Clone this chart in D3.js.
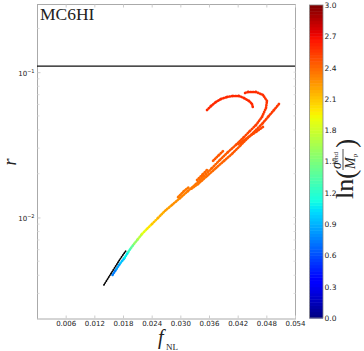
<!DOCTYPE html>
<html>
<head>
<meta charset="utf-8">
<script src="https://cdn.jsdelivr.net/npm/d3@7"></script>
<style>
  body { margin: 0; background: #fff; }
  svg text { fill: #222; }
</style>
</head>
<body>
<svg width="364" height="351"></svg>
<script>
// values: [fNL, r, ln(sigma_end/Mp)]
var mainTrack = [
  [0.01580, 0.00402, 0.70], [0.01663, 0.00442, 0.80], [0.01747, 0.00486, 0.90],
  [0.01831, 0.00526, 1.00], [0.01910, 0.00579, 1.15], [0.01967, 0.00617, 1.30],
  [0.02030, 0.00657, 1.50], [0.02114, 0.00711, 1.65], [0.02198, 0.00770, 1.80],
  [0.02302, 0.00834, 1.95], [0.02407, 0.00902, 2.05], [0.02533, 0.00992, 2.15],
  [0.02679, 0.0111, 2.20], [0.02826, 0.0122, 2.25], [0.02993, 0.0136, 2.30],
  [0.03160, 0.0152, 2.33], [0.03328, 0.0170, 2.36], [0.03495, 0.0193, 2.38],
  [0.03663, 0.0219, 2.40], [0.03830, 0.0249, 2.42], [0.03998, 0.0282, 2.45],
  [0.04165, 0.0316, 2.48], [0.04333, 0.0358, 2.50], [0.04458, 0.0394, 2.52],
  [0.04584, 0.0433, 2.53], [0.04709, 0.0492, 2.55], [0.04793, 0.0567, 2.56],
  [0.04814, 0.0634, 2.57], [0.04730, 0.0697, 2.58], [0.04584, 0.0731, 2.58],
  [0.04416, 0.0731, 2.60], [0.04353, 0.0719, 2.60]
];
var rightTrack = [
  [0.05065, 0.0604, 2.56], [0.04960, 0.0549, 2.55], [0.04835, 0.0492, 2.54],
  [0.04709, 0.0440, 2.52], [0.04563, 0.0394, 2.50], [0.04416, 0.0353, 2.48],
  [0.04249, 0.0311, 2.46], [0.04081, 0.0274, 2.44], [0.03914, 0.0245, 2.42],
  [0.03726, 0.0216, 2.40], [0.03537, 0.0190, 2.38], [0.03370, 0.0170, 2.36],
  [0.03202, 0.0155, 2.34]
];
var shortTrack = [
  [0.04730, 0.0420, 2.52], [0.04584, 0.0388, 2.50], [0.04458, 0.0364, 2.49],
  [0.04312, 0.0336, 2.48], [0.04186, 0.0316, 2.47]
];
var arcTrack = [
  [0.03558, 0.0549, 2.60], [0.03642, 0.0585, 2.60], [0.03747, 0.0624, 2.60],
  [0.03851, 0.0654, 2.60], [0.03977, 0.0675, 2.60], [0.04102, 0.0686, 2.60],
  [0.04228, 0.0686, 2.60], [0.04333, 0.0664, 2.60], [0.04437, 0.0634, 2.60],
  [0.04500, 0.0604, 2.60], [0.04521, 0.0567, 2.60]
];
var bitE = [[0.03684, 0.0245, 2.45], [0.03809, 0.0269, 2.45], [0.03914, 0.0291, 2.45]];
var bitF = [[0.03349, 0.0181, 2.40], [0.03474, 0.0199, 2.40], [0.03579, 0.0216, 2.40]];
var bitG = [[0.02951, 0.0138, 2.35], [0.03077, 0.0152, 2.35], [0.03181, 0.0162, 2.35]];
var blackTrack = [
  [0.01400, 0.00343], [0.01505, 0.00390], [0.01609, 0.00442],
  [0.01714, 0.00502], [0.01798, 0.00552], [0.01870, 0.00595]
];

var rBound = 0.11;
var xTicks = [0.006, 0.012, 0.018, 0.024, 0.030, 0.036, 0.042, 0.048, 0.054];
var yTicks = [0.01, 0.1];
var yMinor = [0.002, 0.003, 0.004, 0.005, 0.006, 0.007, 0.008, 0.009,
              0.02, 0.03, 0.04, 0.05, 0.06, 0.07, 0.08, 0.09, 0.2];
var cTicks = [0, 0.3, 0.6, 0.9, 1.2, 1.5, 1.8, 2.1, 2.4, 2.7, 3.0];

var svg = d3.select("svg");

var x = d3.scaleLinear().domain([0, 0.054]).range([37, 295]);
var y = d3.scaleLog().domain([0.002, 0.29]).range([319, 5]);
var cy = d3.scaleLinear().domain([0, 3]).range([318, 5]);

// matplotlib jet
var jr = d3.scaleLinear().domain([0, 0.35, 0.66, 0.89, 1]).range([0, 0, 1, 1, 0.5]).clamp(true);
var jg = d3.scaleLinear().domain([0, 0.125, 0.375, 0.64, 0.91, 1]).range([0, 0, 1, 1, 0, 0]).clamp(true);
var jb = d3.scaleLinear().domain([0, 0.11, 0.34, 0.65, 1]).range([0.5, 1, 1, 0, 0]).clamp(true);
function jet(v) {
  var t = v / 3;
  return d3.rgb(jr(t) * 255, jg(t) * 255, jb(t) * 255).toString();
}

// frame
svg.append("rect")
    .attr("x", 37.5).attr("y", 4.5)
    .attr("width", 258).attr("height", 314.5)
    .attr("fill", "none")
    .attr("stroke", "#aaa");

// x axis
var xAxis = svg.append("g")
    .attr("transform", "translate(0,318.5)")
    .call(d3.axisBottom(x).tickValues(xTicks).tickSize(-3).tickPadding(3)
      .tickFormat(d3.format(".3f")));
xAxis.select(".domain").remove();
xAxis.selectAll("line").attr("stroke", "#ccc");
xAxis.selectAll("text").attr("font-family", "DejaVu Sans").attr("font-size", 7);

var xTop = svg.append("g")
    .attr("transform", "translate(0,4.5)")
    .call(d3.axisTop(x).tickValues(xTicks).tickSize(-3).tickFormat(""));
xTop.select(".domain").remove();
xTop.selectAll("line").attr("stroke", "#ccc");

// y axis
var yAxis = svg.append("g")
    .attr("transform", "translate(37.5,0)")
    .call(d3.axisLeft(y).tickValues(yTicks).tickSize(-3).tickPadding(3).tickFormat(""));
yAxis.select(".domain").remove();
yAxis.selectAll("line").attr("stroke", "#ccc");
yAxis.selectAll("text")
    .attr("font-family", "DejaVu Sans").attr("font-size", 7)
    .attr("dy", "0.5em")
    .each(function(d) {
      var t = d3.select(this);
      t.append("tspan").text("10");
      t.append("tspan").attr("dy", -3).attr("font-size", 5)
        .text("\u2212" + Math.round(-Math.log10(d)));
    });

svg.append("g").selectAll("line")
    .data(yMinor)
    .enter().append("line")
      .attr("x1", 37.5).attr("x2", 39.5)
      .attr("y1", function(d) { return y(d); })
      .attr("y2", function(d) { return y(d); })
      .attr("stroke", "#ddd");
svg.append("g").selectAll("line")
    .data(yMinor.concat(yTicks))
    .enter().append("line")
      .attr("x1", 293.5).attr("x2", 295.5)
      .attr("y1", function(d) { return y(d); })
      .attr("y2", function(d) { return y(d); })
      .attr("stroke", "#ddd");

// r bound
svg.append("line")
    .attr("x1", x(0)).attr("x2", x(0.054))
    .attr("y1", y(rBound)).attr("y2", y(rBound))
    .attr("stroke", "#111")
    .attr("stroke-width", 1.2);

// tracks
var tracks = [mainTrack, rightTrack, shortTrack, arcTrack, bitE, bitF, bitG];
var trackG = svg.append("g").attr("class", "tracks");
tracks.forEach(function(tr) {
  trackG.append("g").selectAll("line")
    .data(d3.pairs(tr))
    .enter().append("line")
      .attr("x1", function(d) { return x(d[0][0]); })
      .attr("y1", function(d) { return y(d[0][1]); })
      .attr("x2", function(d) { return x(d[1][0]); })
      .attr("y2", function(d) { return y(d[1][1]); })
      .attr("stroke", function(d) { return jet((d[0][2] + d[1][2]) / 2); })
      .attr("stroke-width", 2.6)
      .attr("stroke-linecap", "round")
      .attr("stroke-dasharray", "0.6 1.9");
});

svg.append("path")
    .datum(blackTrack)
    .attr("d", d3.line().x(function(d) { return x(d[0]); }).y(function(d) { return y(d[1]); }))
    .attr("fill", "none")
    .attr("stroke", "#000")
    .attr("stroke-width", 1.7)
    .attr("stroke-linecap", "round")
    .attr("stroke-dasharray", "0.6 1.6");

// title and labels
svg.append("text")
    .attr("x", 40).attr("y", 19.5)
    .attr("font-family", "Liberation Serif")
    .attr("font-size", 17.5)
    .text("MC6HI");

svg.append("text")
    .attr("transform", "translate(16,162) rotate(-90)")
    .attr("text-anchor", "middle")
    .attr("font-family", "Liberation Serif")
    .attr("font-style", "italic")
    .attr("font-size", 18)
    .text("r");

var xl = svg.append("text")
    .attr("font-family", "Liberation Serif");
xl.append("tspan").attr("x", 158).attr("y", 344)
    .attr("font-style", "italic").attr("font-size", 20).text("f");
xl.append("tspan").attr("x", 166).attr("y", 350)
    .attr("font-size", 9).text("NL");

// colorbar
var nLev = 100;
svg.append("g").selectAll("rect")
    .data(d3.range(nLev))
    .enter().append("rect")
      .attr("x", 309.5)
      .attr("width", 13.5)
      .attr("y", function(i) { return cy((i + 1) * 3 / nLev); })
      .attr("height", function(i) { return cy(i * 3 / nLev) - cy((i + 1) * 3 / nLev) + 0.5; })
      .attr("fill", function(i) { return jet((i + 0.5) * 3 / nLev); });
svg.append("rect")
    .attr("x", 309.5).attr("y", 5)
    .attr("width", 13.5).attr("height", 313)
    .attr("fill", "none").attr("stroke", "#888").attr("stroke-width", 0.8);

var cAxis = svg.append("g")
    .attr("transform", "translate(323,0)")
    .call(d3.axisRight(cy).tickValues(cTicks).tickSize(0).tickPadding(1.5)
      .tickFormat(d3.format(".1f")));
cAxis.select(".domain").remove();
cAxis.selectAll("text").attr("font-family", "DejaVu Sans").attr("font-size", 7.5);

var lab = svg.append("g")
    .attr("transform", "translate(353,199) rotate(-90)")
    .attr("font-family", "Liberation Serif");
lab.append("text").attr("x", 0).attr("y", 0).attr("font-size", 26).text("ln");
lab.append("text").attr("x", 20).attr("y", 2).attr("font-size", 28).text("(");
var num = lab.append("text").attr("x", 30).attr("y", -12.5).attr("font-size", 14);
num.append("tspan").attr("font-style", "italic").text("\u03c3");
num.append("tspan").attr("font-size", 7).attr("dy", -3).text("end");
lab.append("line")
    .attr("x1", 29).attr("x2", 50).attr("y1", -10).attr("y2", -10)
    .attr("stroke", "#222").attr("stroke-width", 0.8);
var den = lab.append("text").attr("x", 30).attr("y", 2).attr("font-size", 14);
den.append("tspan").attr("font-style", "italic").text("M");
den.append("tspan").attr("font-size", 7).attr("dy", 2).text("p");
lab.append("text").attr("x", 51).attr("y", 2).attr("font-size", 28).text(")");
</script>
</body>
</html>
